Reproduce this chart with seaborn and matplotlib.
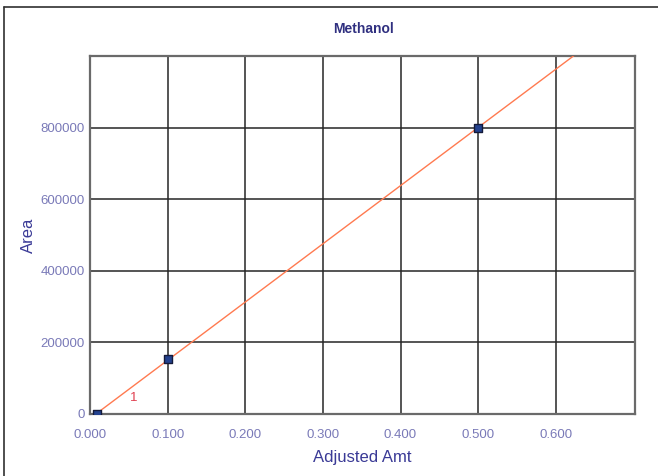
import numpy as np
import pandas as pd
import matplotlib.pyplot as plt
import seaborn as sns
from matplotlib.lines import Line2D

# calibration points
amounts = [0.009, 0.100, 0.500]
areas = [0, 153000, 800000]
x_ticks = [0.0, 0.1, 0.2, 0.3, 0.4, 0.5, 0.6]
y_ticks = [0, 200000, 400000, 600000, 800000]

df = pd.DataFrame({"Adjusted Amt": amounts, "Area": areas})

# least-squares calibration line
slope, intercept = np.polyfit(amounts, areas, 1)
fit_x = np.array([0.0, 0.71])
fit = pd.DataFrame({"x": fit_x, "y": slope * fit_x + intercept})

sns.set_style("white")
plt.rcParams['font.family'] = ['Liberation Sans', 'DejaVu Sans']

fig = plt.figure(figsize=(6.58, 4.76), dpi=100)
ax = fig.add_axes([90 / 658, 62 / 476, 545 / 658, 358 / 476])

# outer frame (left and top edges only)
fig.add_artist(Line2D([4 / 658, 4 / 658], [0, 1 - 7 / 476], transform=fig.transFigure,
                      color="#303030", lw=1.2))
fig.add_artist(Line2D([4 / 658, 1], [1 - 7 / 476, 1 - 7 / 476], transform=fig.transFigure,
                      color="#303030", lw=1.2))

sns.lineplot(data=fit, x="x", y="y", ax=ax, color="#ff7a50", lw=1.0, zorder=3)
sns.scatterplot(data=df, x="Adjusted Amt", y="Area", ax=ax, marker="s", s=40,
                color="#24428f", edgecolor="#141a3a", linewidth=1.0, zorder=4)

ax.text(0.056, 45000, "1", color="#e04050", fontsize=9.5, ha="center", va="center")

ax.set_xlim(0, 0.702)
ax.set_ylim(0, 1000000)
ax.set_xticks(x_ticks)
ax.set_yticks(y_ticks)
ax.set_xticklabels([f"{v:.3f}" for v in x_ticks])
ax.set_yticklabels([f"{v:d}" for v in y_ticks])

ax.grid(True, color="#262626", lw=1.1)
ax.set_axisbelow(True)
for s in ax.spines.values():
    s.set_color("#6a6a6a")
    s.set_linewidth(1.6)
ax.tick_params(axis="both", length=4, width=1.1, color="#262626",
               labelcolor="#7a7ab8", labelsize=9.5)
ax.tick_params(axis="x", pad=7)
ax.tick_params(axis="y", pad=0)

ax.set_xlabel("Adjusted Amt", fontsize=12, color="#3a3a96", labelpad=6)
ax.set_ylabel("Area", fontsize=12, color="#3a3a96", labelpad=3)
fig.text(364 / 658, 1 - 29 / 476, "Methanol", fontsize=10, fontweight="bold",
         color="#303080", ha="center", va="center")

plt.savefig("out.png", dpi=100)
plt.close()
